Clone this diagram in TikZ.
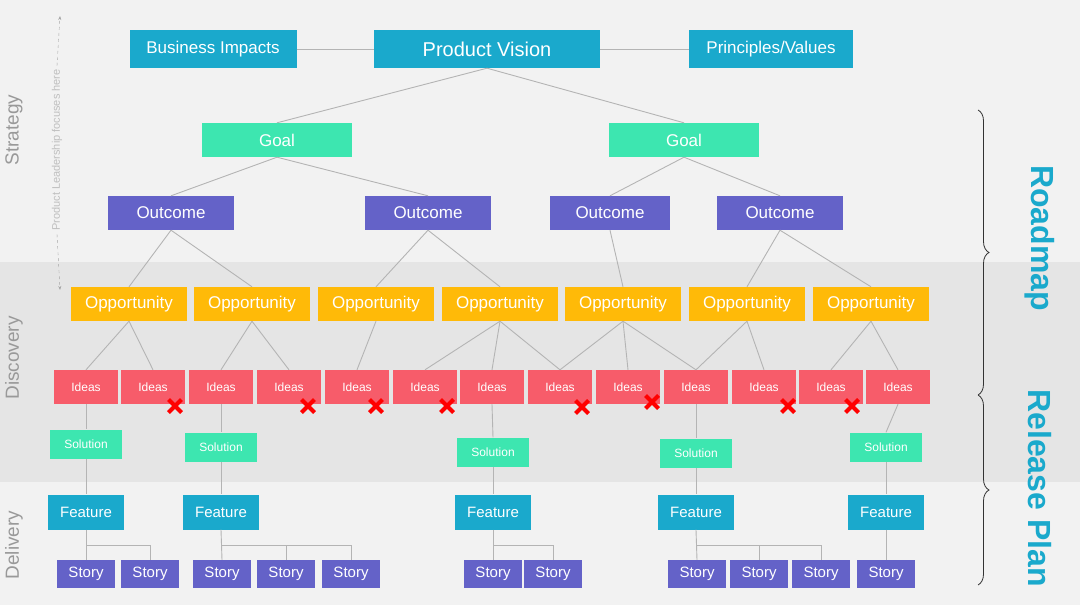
\documentclass[tikz,border=0pt]{standalone}
\usepackage{fontspec}
\setmainfont{Liberation Sans}
\usetikzlibrary{shapes.misc,decorations.pathreplacing,arrows.meta}
\definecolor{cy}{HTML}{1AA9CC}
\definecolor{gr}{HTML}{3DE6B0}
\definecolor{pu}{HTML}{6462C8}
\definecolor{or}{HTML}{FFBA08}
\definecolor{rd}{HTML}{F75C6A}
\definecolor{ln}{HTML}{B4B4B4}
\begin{document}
\begin{tikzpicture}[x=1pt,y=-1pt,
  box/.style={minimum height=#1,inner sep=0pt,text=white,anchor=center},
  top/.style={box=38,fill=cy,font=\fontsize{17}{17}\selectfont},
  goal/.style={box=34,fill=gr,minimum width=150,font=\fontsize{17}{17}\selectfont},
  outc/.style={box=34,fill=pu,minimum width=126,font=\fontsize{17}{17}\selectfont},
  opp/.style={box=34,fill=or,minimum width=116,font=\fontsize{17}{17}\selectfont},
  idea/.style={box=34,fill=rd,minimum width=64,font=\fontsize{12}{12}\selectfont},
  sol/.style={box=29,fill=gr,minimum width=72,font=\fontsize{12}{12}\selectfont},
  feat/.style={box=35,fill=cy,minimum width=76,font=\fontsize{15}{15}\selectfont},
  story/.style={box=28,fill=pu,minimum width=58,font=\fontsize{15}{15}\selectfont},
  sec/.style={rotate=90,text=black!40,font=\fontsize{19}{19}\selectfont},
  edge/.style={draw=ln,line width=0.9pt},
  xx/.style={cross out,draw=red,line width=4pt,minimum size=9pt,inner sep=0pt},
  big/.style={rotate=-90,text=cy,font=\fontsize{32}{32}\selectfont\bfseries}]
\fill[black!5] (0,0) rectangle (1080,605);
\fill[black!10] (0,262) rectangle (1080,482);
\useasboundingbox (0,0) rectangle (1080,605);
\node[sec] (ls) at (14,130) {Strategy};
\node[sec] (ld) at (14,358) {Discovery};
\node[sec] (lv) at (14,545) {Delivery};
\node[rotate=90,text=black!25,font=\fontsize{11}{11}\selectfont] (plf) at (57,150) {Product Leadership focuses here};
\coordinate (da) at (60,16); \coordinate (db) at (60,290);
\draw[black!35,dashed,-{Stealth[length=4pt]}] (plf.east) -- (da);
\draw[black!35,dashed,-{Stealth[length=4pt]}] (plf.west) -- (db);
% top
\node[top,minimum width=167] (bi) at (213,49) {Business Impacts};
\node[top,minimum width=226,font=\fontsize{20}{20}\selectfont] (pv) at (487,49) {Product Vision};
\node[top,minimum width=164] (pr) at (771,49) {Principles/Values};
\node[goal] (g1) at (277,140) {Goal};
\node[goal] (g2) at (684,140) {Goal};
\foreach \n/\x in {1/171,2/428,4/780} \node[outc] (o\n) at (\x,213) {Outcome};
\node[outc,minimum width=120] (o3) at (610,213) {Outcome};
\foreach \n/\x in {1/129,2/252,3/376,4/500,5/623,6/747,7/871} \node[opp] (p\n) at (\x,304) {Opportunity};
\foreach \n/\x in {1/86,2/153,3/221,4/289,5/357,6/425,7/492,8/560,9/628,10/696,11/764,12/831,13/898} \node[idea] (i\n) at (\x,387) {Ideas};
\foreach \n/\x/\y in {1/86/444,2/221/447,3/493/452,4/696/453,5/886/447} \node[sol] (s\n) at (\x,\y) {Solution};
\foreach \n/\x in {1/86,2/221,3/493,4/696,5/886} \node[feat] (f\n) at (\x,512) {Feature};
\foreach \n/\x in {1/86,2/150,3/222,4/286,5/351,6/493,7/553,8/697,9/759,10/821,11/886} \node[story] (t\n) at (\x,574) {Story};
% crosses
\foreach \n/\x/\y in {1/175/406,2/308/406,3/376/406,4/447/406,5/582/407,6/652/402,7/788/406,8/852/406} \node[xx] (x\n) at (\x,\y) {};
% edges
\draw[edge] (bi) -- (pv); \draw[edge] (pv) -- (pr);
\draw[edge] (pv.south) -- (g1.north); \draw[edge] (pv.south) -- (g2.north);
\foreach \g/\o in {g1/o1,g1/o2,g2/o3,g2/o4,o1/p1,o1/p2,o2/p3,o2/p4,o3/p5,o4/p6,o4/p7,
 p1/i1,p1/i2,p2/i3,p2/i4,p3/i5,p4/i6,p4/i7,p4/i8,p5/i8,p5/i9,p5/i10,p6/i10,p6/i11,p7/i12,p7/i13,
 i1/s1,i3/s2,i7/s3,i10/s4,i13/s5,s1/f1,s2/f2,s3/f3,s4/f4,s5/f5}
 \draw[edge] (\g.south) -- (\o.north);
\foreach \f/\a/\b in {f1/t1/t2,f2/t3/t5,f3/t6/t7,f4/t8/t10}{
 \draw[edge] (\f.south) -- (\a.north);
 \coordinate (j) at ([yshift=-16pt]\f.south);
 \draw[edge] (j) -| (\b.north);}
\coordinate (j2) at ([yshift=-16pt]f2.south); \draw[edge] (j2 -| t4.north) -- (t4.north);
\coordinate (j4) at ([yshift=-16pt]f4.south); \draw[edge] (j4 -| t9.north) -- (t9.north);
\draw[edge] (f5.south) -- (t11.north);
% braces
\coordinate (b1) at (978,110); \coordinate (b2) at (978,395); \coordinate (b3) at (978,585);
\draw[black!80,line width=0.8pt,decorate,decoration={brace,amplitude=11pt}] (b1) -- (b2);
\draw[black!80,line width=0.8pt,decorate,decoration={brace,amplitude=11pt}] (b2) -- (b3);
\node[big] (rm) at (1040,238) {Roadmap};
\node[big] (rp) at (1040,488) {Release Plan};
\end{tikzpicture}
\end{document}
